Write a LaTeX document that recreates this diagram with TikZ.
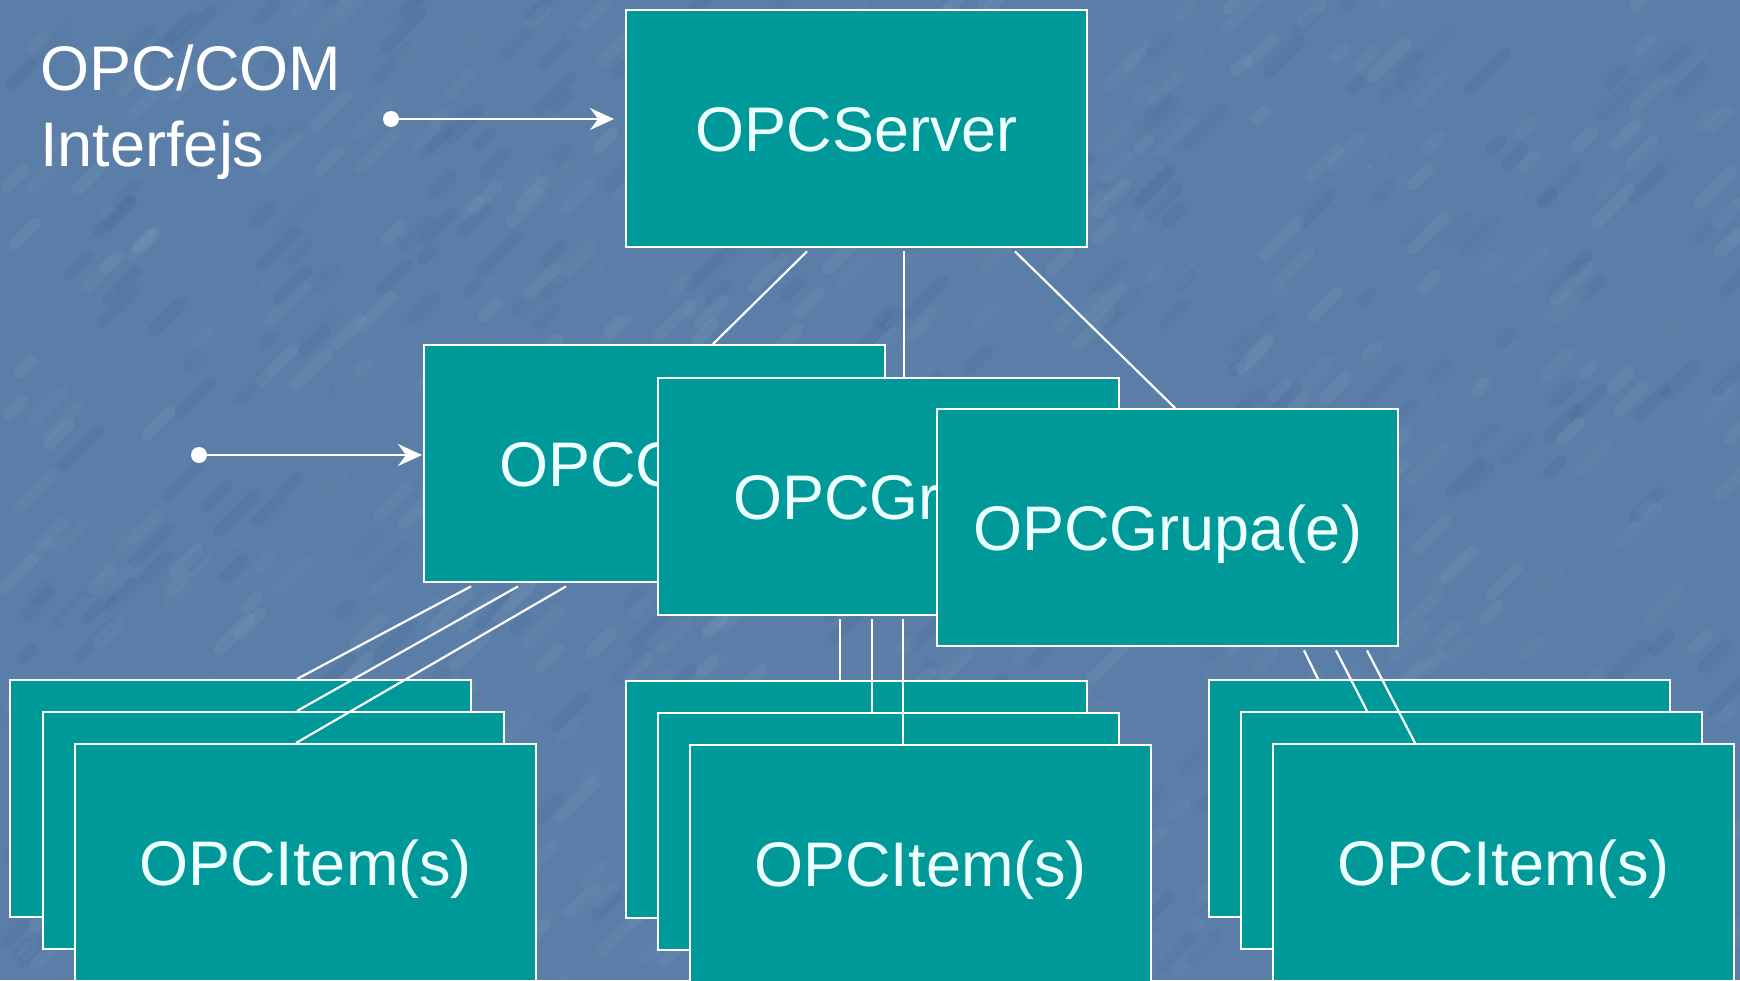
\documentclass[tikz,border=0pt]{standalone}
\usepackage{fontspec}
\setmainfont{Liberation Sans}
\usetikzlibrary{calc,arrows.meta}
\definecolor{bgblue}{HTML}{5A7EA7}
\definecolor{boxteal}{HTML}{009999}
\definecolor{boxtext}{HTML}{EEFFFF}
\tikzset{
  box/.style={draw=white, line width=1.2pt, fill=boxteal, text=boxtext,
    minimum width=230.5pt, minimum height=118.5pt, inner sep=0pt,
    anchor=north west, font=\fontsize{31.5}{38}\selectfont,
    text height=22.5pt, text depth=0pt},
  conn/.style={draw=white, line width=1.1pt},
  arr/.style={draw=white, line width=1.1pt, -{Stealth[length=12pt,width=11pt,inset=4pt]}},
  dotmark/.style={circle, fill=white, inner sep=0pt, minimum size=8pt},
  streak/.style={line width=6pt, line cap=round}
}
\begin{document}
\begin{tikzpicture}[x=0.5pt,y=-0.5pt]
\path[fill=bgblue] (0,0) rectangle (1740,980);
\useasboundingbox (0,0) rectangle (1740,980);

% background texture
\begin{scope}
\clip (0,0) rectangle (1740,980);
\pgfmathsetseed{7}
\foreach \i in {1,...,600}{
  \pgfmathsetmacro\px{rnd*1740}
  \pgfmathsetmacro\py{rnd*980}
  \pgfmathsetmacro\ln{10+rnd*40}
  \pgfmathsetmacro\op{0.015+rnd*0.035}
  \draw[streak, white, opacity=\op] (\px,\py) -- ++(0.7*\ln,-0.7*\ln);
}
\foreach \i in {1,...,350}{
  \pgfmathsetmacro\px{rnd*1740}
  \pgfmathsetmacro\py{rnd*980}
  \pgfmathsetmacro\ln{10+rnd*40}
  \pgfmathsetmacro\op{0.015+rnd*0.03}
  \draw[streak, black!60!blue, opacity=\op] (\px,\py) -- ++(0.7*\ln,-0.7*\ln);
}
\end{scope}

% label
\node[anchor=north west, inner sep=0pt, align=left, text=white,
  font=\fontsize{31.5}{38}\selectfont] (lbl) at (40,44) {OPC/COM\\Interfejs};

% server
\node[box] (server) at (625,9) {OPCServer};

% groups
\node[box] (g1) at (423,344) {\makebox[0pt]{\hspace*{39pt}OPCGrupa(e)}};
\node[box] (g2) at (657,377) {\makebox[0pt]{\hspace*{39pt}OPCGrupa(e)}};
\node[box] (g3) at (936,408) {OPCGrupa(e)};

% items
\node[box] (a1) at (9,679) {};
\node[box] (a2) at (42,711) {};
\node[box] (a3) at (74,743) {OPCItem(s)};
\node[box] (b1) at (625,680) {};
\node[box] (b2) at (657,712) {};
\node[box] (b3) at (689,744) {OPCItem(s)};
\node[box] (c1) at (1208,679) {};
\node[box] (c2) at (1240,711) {};
\node[box] (c3) at (1272,743) {OPCItem(s)};

% server to groups
\draw[conn] ($(server.south west)+(182,3)$) -- ($(g1.north west)+(290,0)$);
\draw[conn] ($(server.south west)+(279,3)$) -- ($(g2.north west)+(247,0)$);
\draw[conn] ($(server.south west)+(390,3)$) -- ($(g3.north west)+(239,0)$);

% group 1 to items
\draw[conn] ($(g1.south west)+(48,3)$) -- ($(a1.north west)+(288,0)$);
\draw[conn] ($(g1.south west)+(95,3)$) -- ($(a2.north west)+(255,0)$);
\draw[conn] ($(g1.south west)+(143,3)$) -- ($(a3.north west)+(222,0)$);

% group 2 to items
\draw[conn] ($(g2.south west)+(183,3)$) -- ($(b1.north west)+(215,0)$);
\draw[conn] ($(g2.south west)+(215,3)$) -- ($(b2.north west)+(215,0)$);
\draw[conn] ($(g2.south west)+(246,3)$) -- ($(b3.north west)+(214,0)$);

% group 3 to items
\draw[conn] ($(g3.south west)+(368,3)$) -- ($(c1.north west)+(110,0)$);
\draw[conn] ($(g3.south west)+(400,3)$) -- ($(c2.north west)+(127,0)$);
\draw[conn] ($(g3.south west)+(431,3)$) -- ($(c3.north west)+(143,0)$);

% interface arrows
\node[dotmark] (d1) at (391,119) {};
\node[dotmark] (d2) at (199,455) {};
\draw[arr] (d1.center) -- ($(server.north west)+(-11,110)$);
\draw[arr] (d2.center) -- ($(g1.north west)+(-1,111)$);
\end{tikzpicture}
\end{document}
